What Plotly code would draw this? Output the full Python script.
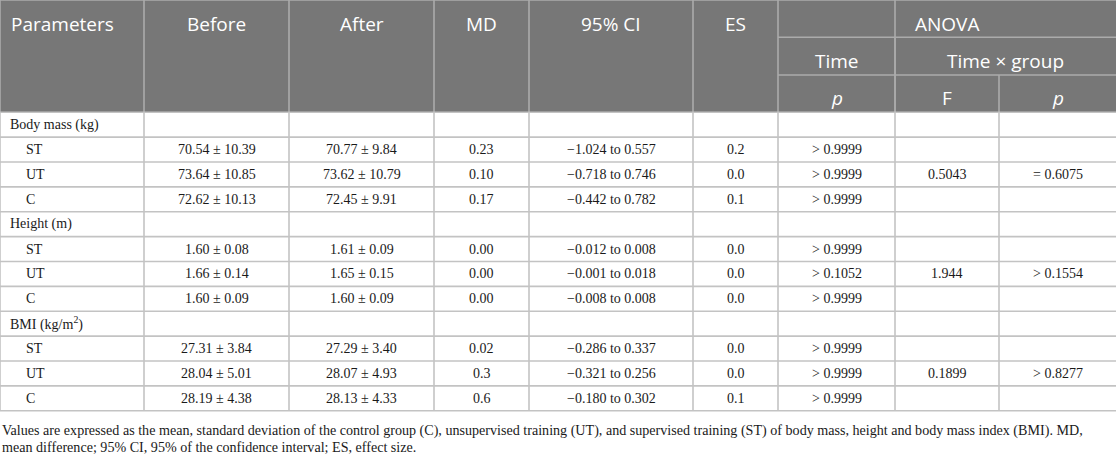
import plotly.graph_objects as go

# ---- table data -------------------------------------------------------
sections = ["Body mass (kg)", "Height (m)", "BMI (kg/m<sup>2</sup>)"]
groups = ["ST", "UT", "C"]

before = [
    ["70.54 ± 10.39", "73.64 ± 10.85", "72.62 ± 10.13"],
    ["1.60 ± 0.08", "1.66 ± 0.14", "1.60 ± 0.09"],
    ["27.31 ± 3.84", "28.04 ± 5.01", "28.19 ± 4.38"],
]
after = [
    ["70.77 ± 9.84", "73.62 ± 10.79", "72.45 ± 9.91"],
    ["1.61 ± 0.09", "1.65 ± 0.15", "1.60 ± 0.09"],
    ["27.29 ± 3.40", "28.07 ± 4.93", "28.13 ± 4.33"],
]
md = [
    ["0.23", "0.10", "0.17"],
    ["0.00", "0.00", "0.00"],
    ["0.02", "0.3", "0.6"],
]
ci95 = [
    ["\u22121.024 to 0.557", "\u22120.718 to 0.746", "\u22120.442 to 0.782"],
    ["\u22120.012 to 0.008", "\u22120.001 to 0.018", "\u22120.008 to 0.008"],
    ["\u22120.286 to 0.337", "\u22120.321 to 0.256", "\u22120.180 to 0.302"],
]
es = [
    ["0.2", "0.0", "0.1"],
    ["0.0", "0.0", "0.0"],
    ["0.0", "0.0", "0.1"],
]
p_time = [
    ["> 0.9999", "> 0.9999", "> 0.9999"],
    ["> 0.9999", "> 0.1052", "> 0.9999"],
    ["> 0.9999", "> 0.9999", "> 0.9999"],
]
f_group = [["", "0.5043", ""], ["", "1.944", ""], ["", "0.1899", ""]]
p_group = [["", "= 0.6075", ""], ["", "> 0.1554", ""], ["", "> 0.8277", ""]]

header_top = ["Parameters", "Before", "After", "MD", "95% CI", "ES"]
footnote = [
    "Values are expressed as the mean, standard deviation of the control group (C), "
    "unsupervised training (UT), and supervised training (ST) of body mass, height and "
    "body mass index (BMI). MD,",
    "mean difference; 95% CI, 95% of the confidence interval; ES, effect size.",
]

# ---- layout constants ---------------------------------------------------
W, H = 1116, 458
edges = [0, 144, 289, 434, 529, 693, 778, 895, 999, 1116]
h1, h2, h3 = 37.3, 75, 112.3
row_h = 24.87
HEAD_BG = "#777777"
HEAD_LINE = "#ababab"
GRID = "#c3c3c3"
INK = "#1a1a1a"
SERIF = "Liberation Serif"
SANS = "Open Sans"

shapes = []
ann = []


def line(x0, y0, x1, y1, color, w=1.6):
    shapes.append(dict(type="line", xref="x", yref="y", x0=x0, y0=y0, x1=x1, y1=y1,
                       line=dict(color=color, width=w), layer="above"))


def text(x, y, s, size, color, font, anchor="center"):
    ann.append(dict(x=x, y=y, xref="x", yref="y", text=s, showarrow=False,
                    xanchor=anchor, yanchor="middle",
                    font=dict(family=font, size=size, color=color)))


# header block
shapes.append(dict(type="rect", xref="x", yref="y", x0=0, y0=0, x1=W, y1=h3,
                   fillcolor=HEAD_BG, line=dict(width=0), layer="below"))
line(0, 0, W, 0, HEAD_LINE)
for x in edges[:8]:
    line(x, 0, x, h3, HEAD_LINE)
line(edges[7], h1, edges[7], h3, HEAD_LINE)
line(edges[8], h2, edges[8], h3, HEAD_LINE)
line(edges[6], h1, W, h1, HEAD_LINE)
line(edges[6], h2, W, h2, HEAD_LINE)

hs = 19
text(9, 24, header_top[0], hs, "white", SANS, "left")
for i in range(1, 6):
    text((edges[i] + edges[i + 1]) / 2, 24, header_top[i], hs, "white", SANS)
text((edges[6] + W) / 2, 24, "ANOVA", hs, "white", SANS)
text((edges[6] + edges[7]) / 2, 60.5, "Time", hs, "white", SANS)
text((edges[7] + W) / 2, 60.5, "Time × group", hs, "white", SANS)
text((edges[6] + edges[7]) / 2, 98, "<i>p</i>", hs, "white", SANS)
text((edges[7] + edges[8]) / 2, 98, "F", hs, "white", SANS)
text((edges[8] + W) / 2, 98, "<i>p</i>", hs, "white", SANS)

# body rows
bs = 14
n_rows = len(sections) * (len(groups) + 1)
bottom = h3 + n_rows * row_h
for k in range(n_rows + 1):
    line(0, h3 + k * row_h, W, h3 + k * row_h, GRID)
for x in edges[:-1]:
    line(x, h3, x, bottom, GRID)

r = 0
for s, name in enumerate(sections):
    yc = h3 + (r + 0.5) * row_h
    text(8, yc, name, bs, INK, SERIF, "left")
    r += 1
    for g, grp in enumerate(groups):
        yc = h3 + (r + 0.5) * row_h
        text(24, yc, grp, bs, INK, SERIF, "left")
        vals = [before[s][g], after[s][g], md[s][g], ci95[s][g], es[s][g],
                p_time[s][g], f_group[s][g], p_group[s][g]]
        for c, v in enumerate(vals):
            if v:
                text((edges[c + 1] + edges[c + 2]) / 2, yc, v, bs, INK, SERIF)
        r += 1

# footnote
text(0, bottom + 20, footnote[0], 14.1, INK, SERIF, "left")
text(0, bottom + 36, footnote[1], 14.1, INK, SERIF, "left")

fig = go.Figure()
fig.update_layout(
    width=W, height=H,
    margin=dict(l=0, r=0, t=0, b=0),
    paper_bgcolor="white", plot_bgcolor="white",
    xaxis=dict(range=[0, W], visible=False, fixedrange=True),
    yaxis=dict(range=[H, 0], visible=False, fixedrange=True),
    shapes=shapes, annotations=ann, showlegend=False,
)
fig.write_html("out.html", config={"displayModeBar": False},
               post_script="document.body.style.margin='0';")
